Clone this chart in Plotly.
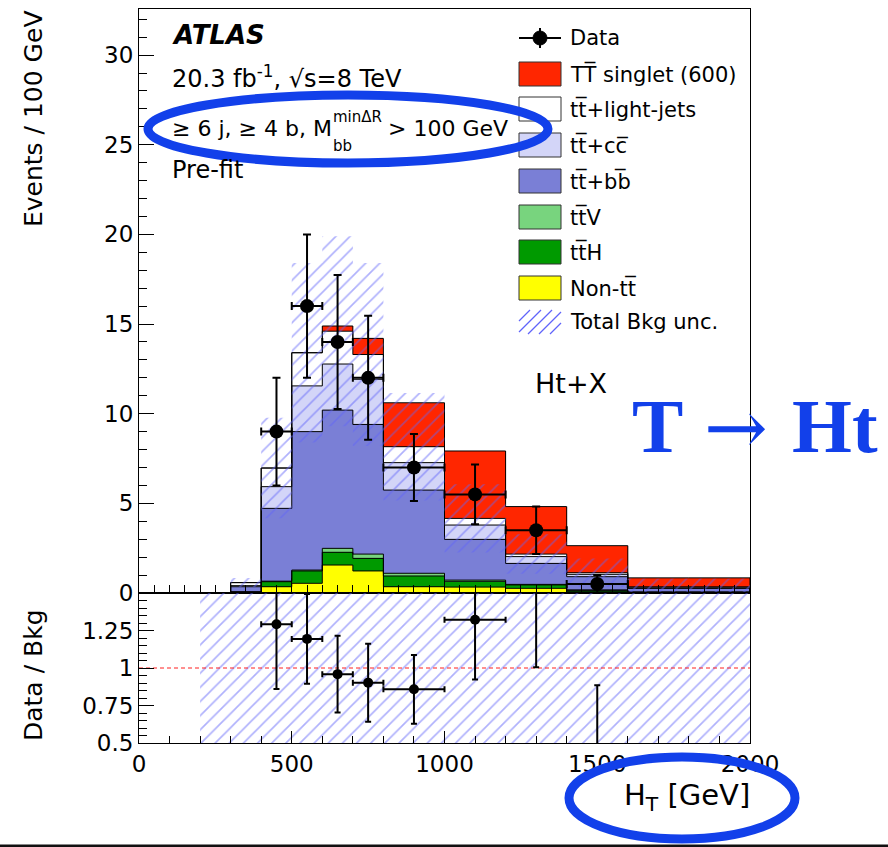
import numpy as np
import plotly.graph_objects as go

# ---------------------------------------------------------------- data
# H_T bin edges [GeV]
bin_edges = [300, 400, 500, 600, 700, 800, 1000, 1200, 1400, 1600, 1800, 2000]

# stacked contributions, events / 100 GeV (bottom of stack first)
non_tt   = [0.03, 0.35, 0.54, 1.56, 1.23, 0.35, 0.33, 0.26, 0.10, 0.03, 0.03]
tt_h     = [0.03, 0.28, 0.69, 0.71, 0.70, 0.60, 0.32, 0.19, 0.05, 0.02, 0.02]
tt_v     = [0.01, 0.03, 0.05, 0.22, 0.24, 0.15, 0.07, 0.03, 0.02, 0.005, 0.005]
tt_bb    = [0.28, 4.06, 7.72, 7.71, 7.23, 4.64, 2.27, 1.17, 0.74, 0.20, 0.20]
tt_cc    = [0.06, 1.21, 2.55, 2.57, 2.52, 1.53, 0.80, 0.38, 0.13, 0.04, 0.04]
tt_light = [0.17, 1.04, 1.85, 1.83, 1.38, 0.89, 0.37, 0.14, 0.09, 0.05, 0.05]
signal   = [0.00, 0.00, 0.00, 0.29, 0.90, 2.45, 3.76, 2.65, 1.51, 0.50, 0.50]

# total background uncertainty (absolute)
bkg_unc  = [0.25, 2.8, 5.0, 5.3, 5.1, 3.0, 1.9, 1.1, 0.8, 0.45, 0.45]

# data (events / 100 GeV) in bins 400..1600
data_bin_index = [1, 2, 3, 4, 5, 6, 7, 8]
data_values    = [9.0, 16.0, 14.0, 12.0, 7.0, 5.5, 3.5, 0.5]
data_errors    = [3.0, 4.0, 3.74, 3.46, 1.87, 1.66, 1.32, 0.5]

# ratio-panel uncertainty band
ratio_band_x = [200, 2000]
ratio_band_y = [0.0, 2.0]

# legend entries: (label, fill colour)
legend_entries = [
    ("TT\u0305 singlet (600)", "#ff2600"),
    ("tt\u0305+light-jets", "#ffffff"),
    ("tt\u0305+cc\u0305", "#d3d5f8"),
    ("tt\u0305+bb\u0305", "#7a7fd6"),
    ("tt\u0305V", "#78d47e"),
    ("tt\u0305H", "#009a00"),
    ("Non-tt\u0305", "#ffff00"),
]

# ---------------------------------------------------------------- derived
edges = np.array(bin_edges, dtype=float)
centers = 0.5 * (edges[:-1] + edges[1:])
widths = edges[1:] - edges[:-1]

components = [
    ("Non-tt", non_tt, "#ffff00"),
    ("ttH", tt_h, "#009a00"),
    ("ttV", tt_v, "#78d47e"),
    ("tt+bb", tt_bb, "#7a7fd6"),
    ("tt+cc", tt_cc, "#d3d5f8"),
    ("tt+light", tt_light, "#ffffff"),
    ("TT singlet", signal, "#ff2600"),
]

bkg_total = (np.array(non_tt) + np.array(tt_h) + np.array(tt_v) + np.array(tt_bb)
             + np.array(tt_cc) + np.array(tt_light))
unc = np.array(bkg_unc)
band_hi = bkg_total + unc
band_lo = np.clip(bkg_total - unc, 0, None)

idx = np.array(data_bin_index)
d_x = centers[idx]
d_xerr = widths[idx] / 2
d_y = np.array(data_values)
d_yerr = np.array(data_errors)
ratio = d_y / bkg_total[idx]
ratio_err = d_yerr / bkg_total[idx]

# ---------------------------------------------------------------- geometry helpers
FIG_W, FIG_H = 888, 847
L, R, T, B = 139, 750, 9, 743
PW, PH = R - L, B - T
SPLIT = 593


def xp(px):
    return (px - L) / PW


def yp(py):
    return (B - py) / PH


ratio_top = yp(SPLIT)
FONT = "DejaVu Sans"
HATCH = "rgb(96,100,250)"
BLUE = "#1240ea"
PATTERN = dict(shape="/", fgcolor=HATCH, bgcolor="rgba(0,0,0,0)", size=10, solidity=0.17)

fig = go.Figure()

# stacked histogram fills
for name, vals, col in components:
    fig.add_trace(go.Bar(
        x=centers, y=vals, width=widths, name=name,
        marker=dict(color=col, line=dict(width=0)),
        xaxis="x", yaxis="y", showlegend=False,
    ))

# step outlines of each cumulative layer
cum = np.zeros(len(centers))
for name, vals, col in components:
    cum = cum + np.array(vals)
    sx = np.concatenate([[edges[0]], edges[:-1], [edges[-1], edges[-1]]])
    sy = np.concatenate([[0.0], cum, [cum[-1], 0.0]])
    fig.add_trace(go.Scatter(
        x=sx, y=sy, mode="lines", line=dict(color="black", width=1, shape="hv"),
        xaxis="x", yaxis="y", showlegend=False, hoverinfo="skip",
    ))

# hatched background uncertainty band (step polygon)
poly_x, poly_y = [], []
for i in range(len(centers)):
    poly_x += [edges[i], edges[i + 1]]
    poly_y += [band_hi[i], band_hi[i]]
for i in reversed(range(len(centers))):
    poly_x += [edges[i + 1], edges[i]]
    poly_y += [band_lo[i], band_lo[i]]
fig.add_trace(go.Scatter(
    x=poly_x, y=poly_y, fill="toself", mode="lines",
    line=dict(width=0, color="rgba(0,0,0,0)"),
    fillcolor="rgba(0,0,0,0)", fillpattern=PATTERN,
    xaxis="x", yaxis="y", showlegend=False, hoverinfo="skip",
))

# data points
fig.add_trace(go.Scatter(
    x=d_x, y=d_y, mode="markers",
    marker=dict(color="black", size=14),
    error_y=dict(type="data", array=d_yerr, color="black", thickness=2, width=4),
    error_x=dict(type="data", array=d_xerr, color="black", thickness=2, width=4),
    xaxis="x", yaxis="y", showlegend=False,
))

# ratio panel: band, reference line, points
fig.add_trace(go.Scatter(
    x=[ratio_band_x[0], ratio_band_x[1], ratio_band_x[1], ratio_band_x[0], ratio_band_x[0]],
    y=[ratio_band_y[0], ratio_band_y[0], ratio_band_y[1], ratio_band_y[1], ratio_band_y[0]],
    fill="toself", mode="lines",
    line=dict(width=0, color="rgba(0,0,0,0)"),
    fillcolor="rgba(0,0,0,0)", fillpattern=PATTERN,
    xaxis="x2", yaxis="y2", showlegend=False, hoverinfo="skip",
))
fig.add_trace(go.Scatter(
    x=[0, 2000], y=[1, 1], mode="lines",
    line=dict(color="#ff2020", width=1, dash="4px,3px"),
    xaxis="x2", yaxis="y2", showlegend=False,
))
fig.add_trace(go.Scatter(
    x=d_x, y=ratio, mode="markers",
    marker=dict(color="black", size=10),
    error_y=dict(type="data", array=ratio_err, color="black", thickness=2, width=3),
    error_x=dict(type="data", array=d_xerr, color="black", thickness=2, width=3),
    xaxis="x2", yaxis="y2", showlegend=False,
))

axis_common = dict(
    showline=True, linecolor="black", linewidth=1, mirror=True,
    showgrid=False, zeroline=False, ticks="inside", tickcolor="black",
    tickwidth=1, tickfont=dict(family=FONT, size=23, color="black"),
)

fig.update_layout(
    width=FIG_W, height=FIG_H,
    margin=dict(l=L, r=FIG_W - R, t=T, b=FIG_H - B, pad=0),
    paper_bgcolor="white", plot_bgcolor="white",
    barmode="stack", bargap=0,
    showlegend=False,
    xaxis=dict(domain=[0, 1], range=[0, 2000], anchor="y", showticklabels=False,
               dtick=500, tick0=0, ticklen=15,
               minor=dict(ticks="inside", dtick=50, ticklen=8, tickcolor="black"),
               **axis_common),
    yaxis=dict(domain=[ratio_top, 1], range=[0, 32.57], anchor="x",
               dtick=5, tick0=0, ticklen=15,
               minor=dict(ticks="inside", dtick=1, ticklen=8, tickcolor="black"),
               **axis_common),
    xaxis2=dict(domain=[0, 1], range=[0, 2000], anchor="y2", matches="x",
                dtick=500, tick0=0, ticklen=12,
                minor=dict(ticks="inside", dtick=100, ticklen=7, tickcolor="black"),
                **axis_common),
    yaxis2=dict(domain=[0, ratio_top], range=[0.5, 1.5], anchor="x2",
                tickvals=[0.5, 0.75, 1.0, 1.25], ticktext=["0.5", "0.75", "1", "1.25"],
                ticklen=15,
                minor=dict(ticks="inside", dtick=0.05, tick0=0.5, ticklen=8, tickcolor="black"),
                **axis_common),
)

ann = []


def text(px, py, s, size, xanchor="left", angle=0, family=FONT, color="black"):
    ann.append(dict(x=xp(px), y=yp(py), xref="paper", yref="paper", text=s,
                    showarrow=False, xanchor=xanchor, yanchor="middle",
                    textangle=angle, font=dict(family=family, size=size, color=color)))


# axis titles
text(33, 119, "Events / 100 GeV", 25, xanchor="center", angle=-90)
text(33, 675, "Data / Bkg", 25, xanchor="center", angle=-90)
text(752, 797, "H<sub>T</sub> [GeV]", 29, xanchor="right")

# labels inside the plot
text(170, 35, "<b><i>ATLAS</i></b>", 26)
text(170, 77, "20.3 fb<sup>-1</sup>, \u221as=8 TeV", 24)
text(170, 128, "\u2265 6 j, \u2265 4 b, M", 22)
text(331, 117, "min\u0394R", 15)
text(331, 146, "bb", 15)
text(386, 128, "> 100 GeV", 22)
text(170, 170, "Pre-fit", 24)
text(571, 383, "Ht+X", 27, xanchor="center")

# T -> Ht label
text(630, 426, "<b>T</b>", 77, family="Liberation Serif", color=BLUE)
text(736, 428, "\u2192", 76, xanchor="center", family="DejaVu Serif", color=BLUE)
text(880, 426, "<b>Ht</b>", 77, xanchor="right", family="Liberation Serif", color=BLUE)

shapes = []

# legend: data entry
row_y = [38, 74, 109, 145, 181, 217, 252, 288, 322]
bx0, bx1 = 519, 561
shapes.append(dict(type="line", xref="paper", yref="paper",
                   x0=xp(bx0), x1=xp(bx1), y0=yp(row_y[0]), y1=yp(row_y[0]),
                   line=dict(color="black", width=2)))
shapes.append(dict(type="line", xref="paper", yref="paper",
                   x0=xp(540), x1=xp(540), y0=yp(row_y[0] - 10), y1=yp(row_y[0] + 10),
                   line=dict(color="black", width=2)))
shapes.append(dict(type="circle", xref="paper", yref="paper",
                   x0=xp(533), x1=xp(547), y0=yp(row_y[0] + 7), y1=yp(row_y[0] - 7),
                   fillcolor="black", line=dict(color="black", width=1)))
text(568, row_y[0], "Data", 21)

# legend: filled boxes
for (label, col), ry in zip(legend_entries, row_y[1:8]):
    shapes.append(dict(type="rect", xref="paper", yref="paper",
                       x0=xp(bx0), x1=xp(bx1), y0=yp(ry + 12), y1=yp(ry - 12),
                       fillcolor=col, line=dict(color="#333333", width=1)))
    text(568, ry, label, 21)

# legend: hatched swatch
hy = row_y[8]
top, bot = hy - 12, hy + 12
for o in range(-24, 42, 11):
    t0 = max(0, -o)
    t1 = min(24, (bx1 - bx0) - o)
    if t0 < t1:
        shapes.append(dict(type="line", xref="paper", yref="paper",
                           x0=xp(bx0 + o + t0), y0=yp(bot - t0),
                           x1=xp(bx0 + o + t1), y1=yp(bot - t1),
                           line=dict(color=HATCH, width=1.2)))
text(568, hy, "Total Bkg unc.", 21)

# border line along the bottom of the figure
shapes.append(dict(type="rect", xref="paper", yref="paper",
                   x0=xp(0), x1=xp(FIG_W), y0=yp(847), y1=yp(844.5),
                   fillcolor="#111111", line=dict(width=0)))

# highlight ellipses
shapes.append(dict(type="circle", xref="paper", yref="paper",
                   x0=xp(148), x1=xp(548), y0=yp(163), y1=yp(95),
                   line=dict(color=BLUE, width=9)))
shapes.append(dict(type="circle", xref="paper", yref="paper",
                   x0=xp(569), x1=xp(795), y0=yp(839), y1=yp(757),
                   line=dict(color=BLUE, width=9)))

fig.update_layout(annotations=ann, shapes=shapes)
fig.write_html("out.html")
